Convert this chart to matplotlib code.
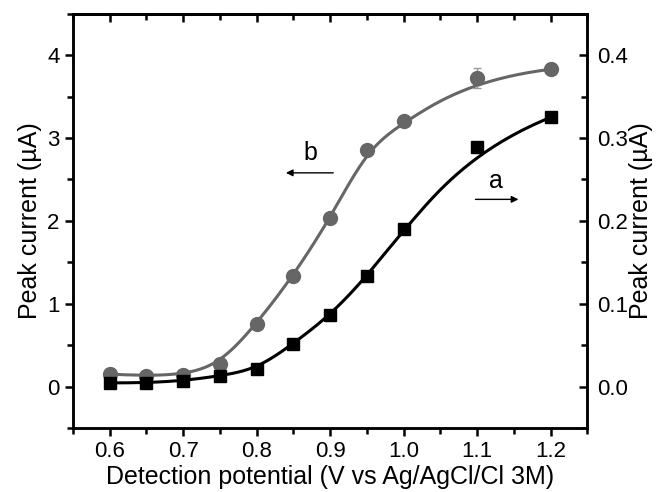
import numpy as np
import matplotlib.pyplot as plt
from matplotlib.ticker import MultipleLocator

plt.rcParams['font.family'] = ['Liberation Sans', 'DejaVu Sans']

# Data
potential = [0.6, 0.65, 0.7, 0.75, 0.8, 0.85, 0.9, 0.95, 1.0, 1.1, 1.2]
current_a = [0.0045, 0.0045, 0.007, 0.013, 0.021, 0.052, 0.086, 0.133, 0.190, 0.289, 0.325]  # right axis
current_b = [0.15, 0.13, 0.14, 0.27, 0.76, 1.34, 2.03, 2.86, 3.20, 3.72, 3.83]  # left axis
err_b = [0, 0, 0, 0, 0, 0, 0, 0, 0, 0.12, 0]


def bspline(x, y, n=300, k=3):
    # clamped B-spline using the data points as control points (like Origin's B-spline line)
    P = np.column_stack([x, y])
    m = len(P)
    knots = np.concatenate([np.zeros(k), np.linspace(0, 1, m - k + 1), np.ones(k)])
    t = np.linspace(0, 1 - 1e-9, n)

    def basis(i, p, u):
        if p == 0:
            return np.where((knots[i] <= u) & (u < knots[i + 1]), 1.0, 0.0)
        out = np.zeros_like(u)
        d1 = knots[i + p] - knots[i]
        d2 = knots[i + p + 1] - knots[i + 1]
        if d1 > 0:
            out += (u - knots[i]) / d1 * basis(i, p - 1, u)
        if d2 > 0:
            out += (knots[i + p + 1] - u) / d2 * basis(i + 1, p - 1, u)
        return out

    B = np.column_stack([basis(i, k, t) for i in range(m)])
    C = B @ P
    return np.append(C[:, 0], x[-1]), np.append(C[:, 1], y[-1])


fig = plt.figure(figsize=(6.57, 4.92), dpi=100)
ax = fig.add_axes([0.111, 0.130, 0.783, 0.842])
ax2 = ax.twinx()

gray = '#666666'
bx, by = bspline(potential, current_b)
ax.plot(bx, by, color=gray, lw=2.2)
ax.errorbar(potential, current_b, yerr=err_b, fmt='o', color=gray, ms=10,
            ecolor='#999999', elinewidth=1, capsize=3)
axx, ayy = bspline(potential, current_a)
ax2.plot(axx, ayy, color='black', lw=2.2)
ax2.plot(potential, current_a, 's', color='black', ms=9)

ax.set_xlim(0.55, 1.25)
ax.set_ylim(-0.5, 4.5)
ax2.set_ylim(-0.05, 0.45)

ax.xaxis.set_major_locator(MultipleLocator(0.1))
ax.xaxis.set_minor_locator(MultipleLocator(0.05))
ax.yaxis.set_major_locator(MultipleLocator(1))
ax.yaxis.set_minor_locator(MultipleLocator(0.5))
ax2.yaxis.set_major_locator(MultipleLocator(0.1))
ax2.yaxis.set_minor_locator(MultipleLocator(0.05))
ax.xaxis.set_major_formatter(plt.FuncFormatter(lambda v, p: f'{v:.1f}'))
ax2.yaxis.set_major_formatter(plt.FuncFormatter(lambda v, p: f'{v:.1f}'))

for a in (ax, ax2):
    for s in a.spines.values():
        s.set_linewidth(1.8)

ax.tick_params(axis='x', which='both', direction='out', top=False, labelsize=16, width=1.8)
ax.tick_params(axis='x', which='major', length=6)
ax.tick_params(axis='x', which='minor', length=4)
ax.tick_params(axis='y', which='both', direction='out', labelsize=16, width=1.8)
ax.tick_params(axis='y', which='major', length=6)
ax.tick_params(axis='y', which='minor', length=4)
ax2.tick_params(axis='y', which='both', direction='in', labelsize=16, width=1.8, pad=7)
ax2.tick_params(axis='y', which='major', length=6)
ax2.tick_params(axis='y', which='minor', length=4)

# inward ticks on the top spine
top = ax.secondary_xaxis('top')
top.xaxis.set_major_locator(MultipleLocator(0.1))
top.xaxis.set_minor_locator(MultipleLocator(0.05))
top.tick_params(which='both', direction='in', labeltop=False, width=1.8)
top.tick_params(which='major', length=6)
top.tick_params(which='minor', length=4)
top.spines['top'].set_linewidth(1.8)

ax.set_xlabel('Detection potential (V vs Ag/AgCl/Cl 3M)', fontsize=18, labelpad=2)
ax.set_ylabel('Peak current (\u00b5A)', fontsize=18, labelpad=4)
ax2.set_ylabel('Peak current (\u00b5A)', fontsize=18, labelpad=1)

ax.annotate('', xy=(0.836, 2.58), xytext=(0.908, 2.58),
            arrowprops=dict(arrowstyle='-|>', color='black', lw=1, mutation_scale=10))
ax.text(0.873, 2.82, 'b', fontsize=18, ha='center', va='center')
ax.annotate('', xy=(1.16, 2.26), xytext=(1.094, 2.26),
            arrowprops=dict(arrowstyle='-|>', color='black', lw=1, mutation_scale=10))
ax.text(1.125, 2.48, 'a', fontsize=18, ha='center', va='center')

fig.savefig('out.png', dpi=100)
